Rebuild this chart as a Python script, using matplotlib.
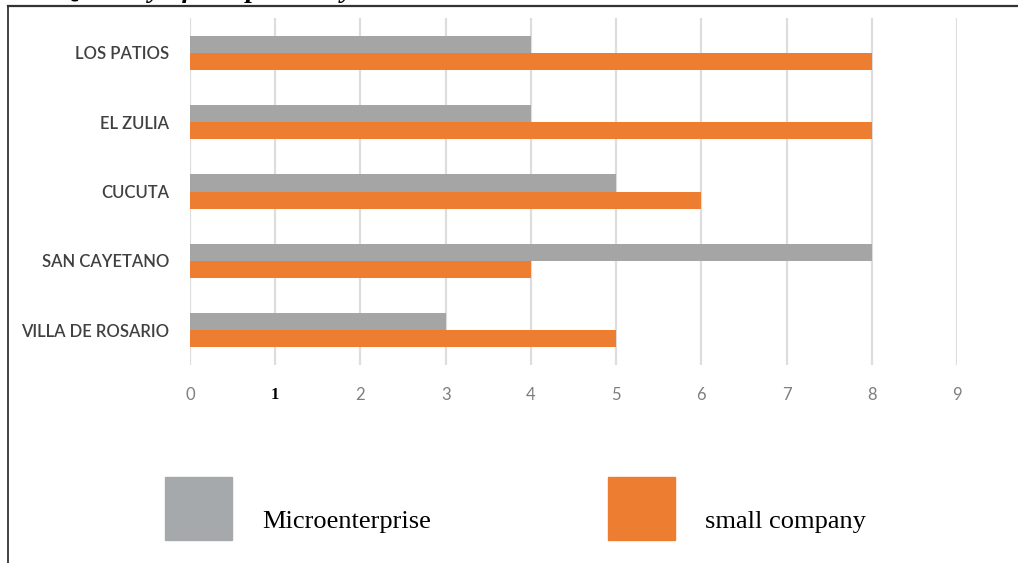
import matplotlib
matplotlib.use('Agg')
import matplotlib.pyplot as plt
from matplotlib.lines import Line2D
from matplotlib.patches import Rectangle
import numpy as np

# 지역별 기업 수 (규모별)
locations = ['LOS PATIOS', 'EL ZULIA', 'CUCUTA', 'SAN CAYETANO', 'VILLA DE ROSARIO']
micro = [4, 4, 5, 8, 3]
small = [8, 8, 6, 4, 5]
x_ticks = [0, 1, 2, 3, 4, 5, 6, 7, 8, 9]
series_names = ['Microenterprise', 'small company']

GRAY = '#A5A5A5'
ORANGE = '#ED7D31'

W, H = 1018, 563
fig = plt.figure(figsize=(W / 100, H / 100), dpi=100)
fig.patch.set_facecolor('white')

ax = fig.add_axes([190 / W, 1 - 365 / H, (957 - 190) / W, (365 - 18) / H])
y = np.arange(len(locations))
h = 0.245
ax.barh(y - h / 2, micro, height=h, color=GRAY, zorder=3)
ax.barh(y + h / 2, small, height=h, color=ORANGE, zorder=3)

ax.set_xlim(0, 9)
ax.set_ylim(len(locations) - 0.5, -0.5)
ax.set_yticks(y)
ax.set_yticklabels(locations, family='Lato', fontweight='semibold', fontsize=12, color='#404040')
ax.set_xticks(x_ticks)
ax.set_xticklabels([str(t) for t in x_ticks], family='Lato', fontsize=12, color='#7f7f7f')
# 1 만 다른 글꼴로 표시됨
lbl = ax.get_xticklabels()[1]
lbl.set_family('Liberation Serif')
lbl.set_fontweight('bold')
lbl.set_color('black')
ax.tick_params(axis='both', length=0)
ax.tick_params(axis='x', pad=16)
ax.tick_params(axis='y', pad=15)
ax.grid(axis='x', color='#DDDDDD', linewidth=1.6, zorder=0)
for s in ax.spines.values():
    s.set_visible(False)

# 바깥 테두리 (왼쪽, 위쪽)
fig.add_artist(Line2D([8 / W, 8 / W], [0, 1 - 6 / H], color='#333333', lw=1.3))
fig.add_artist(Line2D([8 / W, 1], [1 - 6 / H, 1 - 6 / H], color='#333333', lw=1.6))

# 위쪽이 잘린 제목
fig.text(0.06, 1 + 3 / H, 'Quantity of companies by location and size', family='Liberation Serif',
         fontstyle='italic', fontweight='bold', fontsize=20, va='baseline', ha='left')

# 범례
fig.add_artist(Rectangle((165 / W, 1 - 540 / H), 67 / W, 63 / H, color='#A5A9AB'))
fig.text(262 / W, 1 - 522 / H, series_names[0], family='Liberation Serif', fontsize=19, va='center')
fig.add_artist(Rectangle((608 / W, 1 - 540 / H), 67 / W, 63 / H, color=ORANGE))
fig.text(705 / W, 1 - 522 / H, series_names[1], family='Liberation Serif', fontsize=19, va='center')

plt.savefig('out.png', dpi=100)
